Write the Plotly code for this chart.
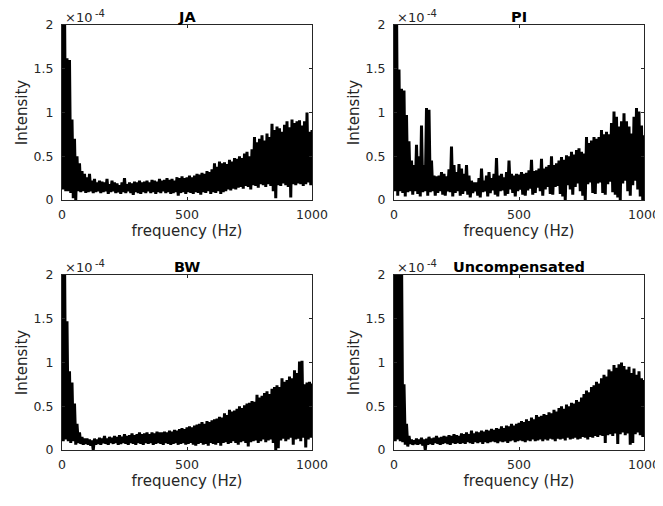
import plotly.graph_objects as go

# Frequency grid of the read-off points (Hz): peaks at 0,10,...,1000 ; troughs at 5,15,...,995
peak_freqs = list(range(0, 1001, 10))
trough_freqs = list(range(5, 1000, 10))

titles = ["JA", "PI", "BW", "Uncompensated"]
x_label = "frequency (Hz)"
y_label = "Intensity"
x_ticks = [0, 500, 1000]
y_ticks = [0, 0.5, 1, 1.5, 2]
y_ticktext = ["0", "0.5", "1", "1.5", "2"]
scale_base = "×10"
scale_exp = "-4"

# Values in units of 1e-4
ja_hi = [2.3, 2.3, 1.62, 1.6, 0.92, 0.7, 0.5, 0.42, 0.33, 0.3,
         0.26, 0.3, 0.22, 0.24, 0.2, 0.22, 0.21, 0.2, 0.24, 0.18,
         0.22, 0.2, 0.19, 0.17, 0.2, 0.25, 0.18, 0.2, 0.19, 0.21,
         0.2, 0.22, 0.2, 0.21, 0.22, 0.2, 0.23, 0.22, 0.21, 0.24,
         0.22, 0.23, 0.25, 0.23, 0.24, 0.22, 0.26, 0.25, 0.27, 0.25,
         0.26, 0.28, 0.26, 0.28, 0.3, 0.29, 0.31, 0.3, 0.33, 0.32,
         0.35, 0.42, 0.38, 0.44, 0.42, 0.43, 0.41, 0.46, 0.44, 0.48,
         0.47, 0.5, 0.48, 0.53, 0.55, 0.5, 0.58, 0.72, 0.66, 0.7,
         0.74, 0.68, 0.76, 0.72, 0.87, 0.8, 0.84, 0.82, 0.78, 0.86,
         0.9, 0.83, 0.92, 0.88, 0.9, 0.91, 0.85, 0.9, 1.0, 0.78,
         0.8]
ja_lo = [0.12, 0.1, 0.1, 0.08, 0.02, 0.0, 0.1, 0.09, 0.1, 0.08,
         0.09, 0.1, 0.08, 0.09, 0.1, 0.08, 0.09, 0.1, 0.07, 0.09,
         0.1, 0.08, 0.09, 0.07, 0.09, 0.08, 0.1, 0.08, 0.06, 0.09,
         0.08, 0.07, 0.09, 0.08, 0.1, 0.08, 0.09, 0.07, 0.09, 0.08,
         0.1, 0.08, 0.09, 0.07, 0.08, 0.09, 0.05, 0.08, 0.09, 0.07,
         0.09, 0.08, 0.07, 0.09, 0.08, 0.06, 0.09, 0.08, 0.1, 0.07,
         0.09, 0.08, 0.1, 0.07, 0.09, 0.1, 0.12, 0.11, 0.13, 0.12,
         0.14, 0.15, 0.13, 0.16, 0.15, 0.12, 0.17, 0.16, 0.14, 0.18,
         0.17, 0.15, 0.18, 0.16, 0.1, 0.02, 0.17, 0.16, 0.19, 0.17,
         0.15, 0.03, 0.18, 0.17, 0.19, 0.18, 0.16, 0.18, 0.2, 0.17]

pi_hi = [2.3, 2.3, 1.49, 1.27, 1.25, 0.97, 0.67, 0.45, 0.4, 0.63,
         0.5, 0.85, 0.4, 1.05, 1.03, 0.45, 0.28, 0.27, 0.28, 0.32,
         0.3, 0.27, 0.35, 0.61, 0.4, 0.32, 0.41, 0.36, 0.3, 0.4,
         0.28, 0.22, 0.2, 0.2, 0.25, 0.36, 0.22, 0.28, 0.32, 0.25,
         0.3, 0.48, 0.28, 0.3, 0.26, 0.32, 0.45, 0.3, 0.28, 0.3,
         0.29, 0.32, 0.3, 0.31, 0.34, 0.46, 0.33, 0.34, 0.36, 0.47,
         0.36, 0.38, 0.4, 0.5, 0.4, 0.42, 0.45, 0.49, 0.46, 0.51,
         0.5, 0.55, 0.52, 0.57, 0.59, 0.55, 0.53, 0.72, 0.65, 0.68,
         0.72, 0.7, 0.72, 0.8, 0.75, 0.78, 0.75, 0.88, 1.01, 0.95,
         0.84, 0.9, 0.99, 0.9, 0.84, 0.76, 0.95, 1.05, 1.01, 0.85,
         0.74]
pi_lo = [0.1, 0.05, 0.1, 0.08, 0.04, 0.09, 0.1, 0.06, 0.1, 0.07,
         0.04, 0.09, 0.1, 0.05, 0.09, 0.1, 0.05, 0.08, 0.1, 0.06,
         0.05, 0.1, 0.09, 0.04, 0.08, 0.1, 0.05, 0.07, 0.1, 0.06,
         0.03, 0.08, 0.1, 0.05, 0.03, 0.09, 0.1, 0.04, 0.08, 0.11,
         0.06, 0.04, 0.1, 0.11, 0.05, 0.07, 0.12, 0.08, 0.04, 0.1,
         0.12, 0.06, 0.05, 0.11, 0.13, 0.06, 0.08, 0.14, 0.1, 0.05,
         0.12, 0.15, 0.07, 0.06, 0.15, 0.16, 0.07, 0.04, 0.0, 0.17,
         0.12, 0.06, 0.15, 0.19, 0.1, 0.05, 0.0, 0.18, 0.2, 0.08,
         0.07, 0.19, 0.2, 0.08, 0.06, 0.18, 0.21, 0.09, 0.06, 0.03,
         0.0, 0.19, 0.22, 0.1, 0.05, 0.17, 0.22, 0.12, 0.04, 0.0]

bw_hi = [2.3, 2.3, 1.47, 0.9, 0.77, 0.53, 0.3, 0.2, 0.15, 0.13,
         0.13, 0.12, 0.11, 0.13, 0.12, 0.14, 0.13, 0.16, 0.13, 0.15,
         0.14, 0.16, 0.15, 0.17, 0.15, 0.18, 0.16, 0.17, 0.19, 0.17,
         0.18, 0.2, 0.18, 0.19, 0.2, 0.18, 0.2, 0.19, 0.21, 0.2,
         0.2, 0.21, 0.2, 0.22, 0.21, 0.23, 0.22, 0.24, 0.25, 0.24,
         0.26, 0.27, 0.26, 0.28, 0.29, 0.3, 0.32, 0.3, 0.33, 0.32,
         0.34, 0.35, 0.36, 0.38, 0.37, 0.42, 0.4, 0.46, 0.44, 0.45,
         0.47, 0.5, 0.48, 0.51, 0.53, 0.54, 0.56, 0.55, 0.63, 0.6,
         0.62, 0.65, 0.67, 0.64, 0.7, 0.72, 0.74, 0.72, 0.82, 0.78,
         0.8, 0.84, 0.82, 0.91, 0.88, 1.01, 1.02, 0.75, 0.77, 0.78,
         0.76]
bw_lo = [0.1, 0.12, 0.1, 0.08, 0.1, 0.06, 0.08, 0.07, 0.06, 0.07,
         0.06, 0.05, 0.0, 0.06, 0.07, 0.06, 0.08, 0.07, 0.06, 0.08,
         0.07, 0.08, 0.06, 0.07, 0.08, 0.07, 0.06, 0.08, 0.07, 0.06,
         0.08, 0.07, 0.06, 0.08, 0.07, 0.08, 0.06, 0.07, 0.08, 0.07,
         0.06, 0.08, 0.07, 0.06, 0.07, 0.08, 0.06, 0.07, 0.08, 0.06,
         0.07, 0.08, 0.06, 0.05, 0.07, 0.08, 0.06, 0.07, 0.05, 0.08,
         0.07, 0.06, 0.08, 0.05, 0.08, 0.09, 0.07, 0.08, 0.1, 0.08,
         0.06, 0.09, 0.1, 0.08, 0.04, 0.09, 0.1, 0.11, 0.08, 0.1,
         0.12, 0.09, 0.11, 0.12, 0.08, 0.0, 0.02, 0.11, 0.13, 0.1,
         0.12, 0.14, 0.06, 0.12, 0.13, 0.1, 0.14, 0.03, 0.12, 0.14]

unc_hi = [2.3, 2.3, 2.3, 2.3, 0.75, 0.3, 0.16, 0.12, 0.11, 0.13,
          0.12, 0.14, 0.12, 0.13, 0.15, 0.13, 0.14, 0.16, 0.14, 0.15,
          0.16, 0.15, 0.17, 0.16, 0.18, 0.17, 0.16, 0.19, 0.18, 0.2,
          0.18, 0.22, 0.19, 0.21, 0.2, 0.22, 0.21, 0.23, 0.22, 0.24,
          0.23, 0.25, 0.24, 0.27, 0.25, 0.28, 0.27, 0.3, 0.28, 0.3,
          0.31, 0.33, 0.32, 0.35, 0.33, 0.37, 0.35, 0.4, 0.38, 0.39,
          0.41, 0.4, 0.43, 0.42, 0.46, 0.44, 0.48, 0.5, 0.47, 0.52,
          0.5, 0.54, 0.53, 0.57, 0.55, 0.6, 0.64, 0.68, 0.66, 0.72,
          0.74, 0.78, 0.76, 0.82, 0.86, 0.84, 0.92, 0.9, 0.97, 0.94,
          0.98, 1.0, 0.96, 0.92, 0.95, 0.88, 0.93, 0.86, 0.9, 0.82,
          0.8]
unc_lo = [0.1, 0.12, 0.1, 0.09, 0.06, 0.04, 0.07, 0.06, 0.07, 0.06,
          0.07, 0.05, 0.0, 0.06, 0.07, 0.06, 0.08, 0.07, 0.06, 0.07,
          0.08, 0.07, 0.06, 0.08, 0.07, 0.08, 0.07, 0.08, 0.07, 0.09,
          0.08, 0.07, 0.09, 0.08, 0.09, 0.07, 0.09, 0.08, 0.09, 0.1,
          0.09, 0.08, 0.1, 0.09, 0.1, 0.08, 0.1, 0.11, 0.09, 0.1,
          0.11, 0.1, 0.09, 0.11, 0.1, 0.12, 0.1, 0.11, 0.12, 0.1,
          0.12, 0.11, 0.13, 0.12, 0.1, 0.13, 0.12, 0.13, 0.11, 0.14,
          0.12, 0.13, 0.14, 0.12, 0.13, 0.15, 0.14, 0.12, 0.15, 0.14,
          0.16, 0.15, 0.17, 0.16, 0.08, 0.17, 0.18, 0.16, 0.19, 0.07,
          0.18, 0.2, 0.17, 0.19, 0.06, 0.08, 0.18, 0.2, 0.17, 0.15]

series = [(ja_hi, ja_lo), (pi_hi, pi_lo), (bw_hi, bw_lo), (unc_hi, unc_lo)]

# The page body has an 8px margin: draw a 655x498 figure so the page is 663x506.
OFF = 8
W, H = 663 - OFF, 506 - OFF
FONT = "DejaVu Sans, Liberation Sans, Arial, sans-serif"
AX = "#262626"

# subplot boxes in screen pixels: (left, right, top, bottom)
boxes = [(62, 312, 25, 200), (394, 644, 25, 200),
         (62, 312, 275, 450), (394, 644, 275, 450)]


def px(v):
    return (v - OFF) / W


def py(v):
    return 1 - (v - OFF) / H


fig = go.Figure()
annotations = []
for i, ((hi, lo), title, (l, r, t, b)) in enumerate(zip(series, titles, boxes)):
    xs, ys = [], []
    for k in range(len(lo)):
        xs += [peak_freqs[k], trough_freqs[k]]
        ys += [hi[k], lo[k]]
    xs.append(peak_freqs[len(lo)])
    ys.append(hi[len(lo)])
    n = "" if i == 0 else str(i + 1)
    fig.add_trace(go.Scatter(x=xs, y=ys, mode="lines",
                             line=dict(color="black", width=3),
                             xaxis="x" + n, yaxis="y" + n,
                             showlegend=False, hoverinfo="skip"))
    common = dict(ticks="inside", ticklen=3, tickcolor=AX, mirror="ticks",
                  showline=True, linecolor=AX, linewidth=1, showgrid=False,
                  zeroline=False, automargin=False,
                  tickfont=dict(family=FONT, size=12.5, color=AX))
    fig.update_layout(**{
        "xaxis" + n: dict(domain=[px(l), px(r)], range=[0, 1000],
                          tickvals=x_ticks, anchor="y" + n,
                          ticklabelstandoff=3,
                          title=dict(text=x_label, standoff=3,
                                     font=dict(family=FONT, size=15, color=AX)),
                          **common),
        "yaxis" + n: dict(domain=[py(b), py(t)], range=[0, 2],
                          tickvals=y_ticks, ticktext=y_ticktext,
                          anchor="x" + n, ticklabelstandoff=5,
                          title=dict(text=y_label, standoff=2,
                                     font=dict(family=FONT, size=15, color=AX)),
                          **common),
    })
    cx = (l + r) / 2
    annotations += [
        dict(text=title, x=px(cx), y=py(t - 8),
             xref="paper", yref="paper", xanchor="center", yanchor="middle",
             showarrow=False,
             font=dict(family=FONT, size=14.5, color="black", weight="bold")),
        dict(text=scale_base, x=px(l + 1), y=py(t - 8),
             xref="paper", yref="paper", xanchor="left", yanchor="middle",
             showarrow=False, font=dict(family=FONT, size=13, color=AX)),
        dict(text=scale_exp, x=px(l + 31), y=py(t - 12),
             xref="paper", yref="paper", xanchor="left", yanchor="middle",
             showarrow=False, font=dict(family=FONT, size=10, color=AX)),
    ]

fig.update_layout(width=W, height=H, margin=dict(l=0, r=0, t=0, b=0),
                  paper_bgcolor="white", plot_bgcolor="white",
                  annotations=annotations, showlegend=False)
fig.write_html("out.html")
